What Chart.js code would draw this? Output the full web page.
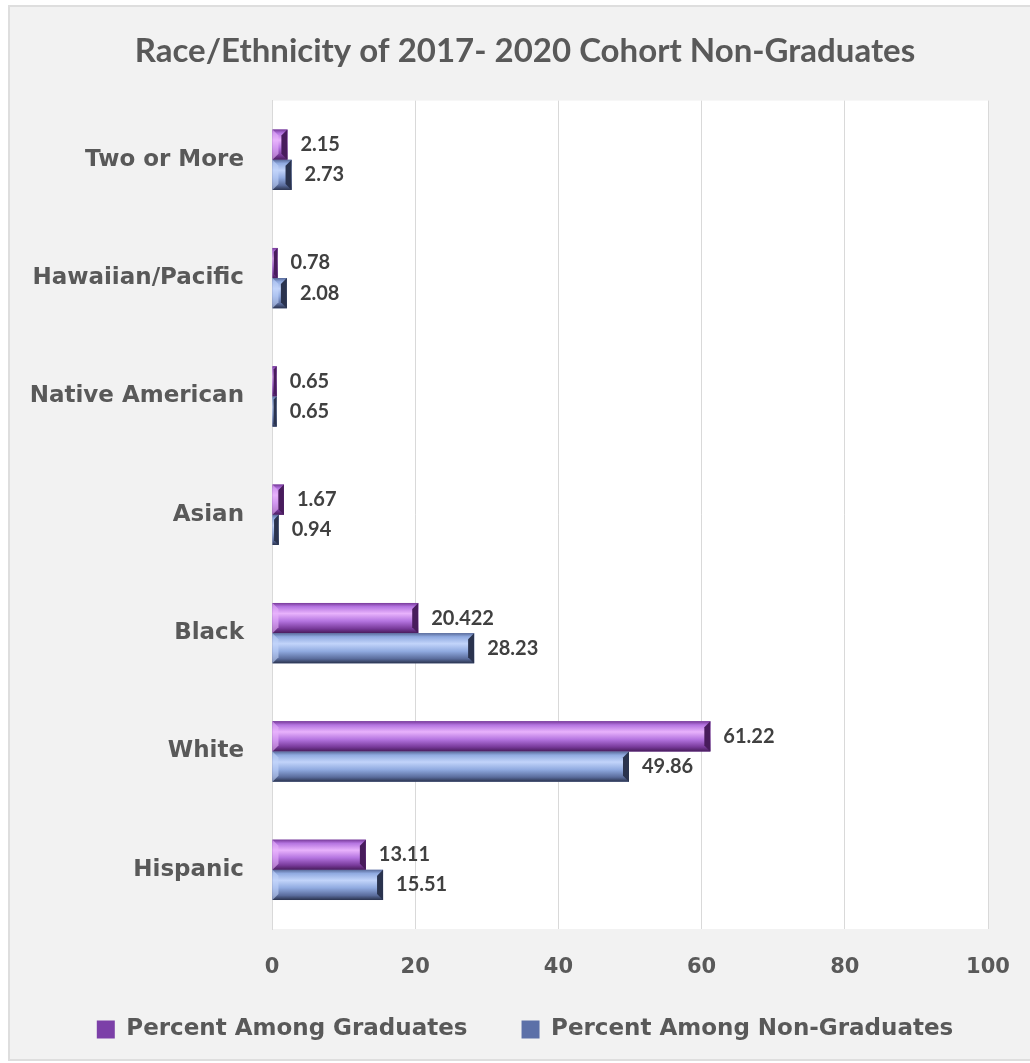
<!DOCTYPE html>
<html>
<head>
<meta charset="utf-8">
<script src="https://cdn.jsdelivr.net/npm/chart.js@4/dist/chart.umd.min.js"></script>
<style>
body { margin:0; background:#fff; }
#frame { position:absolute; left:8px; top:5px; width:1020px; height:1052px; background:#f2f2f2; border-left:2px solid #dedede; border-top:2px solid #dedede; border-bottom:2px solid #dedede; }
#box { position:absolute; left:0; top:0; width:1030px; height:1063px; }
</style>
</head>
<body>
<div id="frame"></div>
<div id="box"><canvas id="bar-chart"></canvas></div>
<script>
var categorias = ["Two or More", "Hawaiian/Pacific", "Native American", "Asian", "Black", "White", "Hispanic"];
var graduados = [2.15, 0.78, 0.65, 1.67, 20.422, 61.22, 13.11];
var noGraduados = [2.73, 2.08, 0.65, 0.94, 28.23, 49.86, 15.51];
var ticksX = [0, 20, 40, 60, 80, 100];

// fondo blanco del area de trazado
var fondoPlot = {
  id: 'fondoPlot',
  beforeDraw: function(chart){
    var a = chart.chartArea, ctx = chart.ctx;
    ctx.save();
    ctx.fillStyle = '#ffffff';
    ctx.fillRect(a.left, a.top, a.right - a.left, a.bottom - a.top);
    ctx.restore();
  }
};

// efecto biselado + etiquetas de valor
var bisel = {
  id: 'bisel',
  afterDatasetsDraw: function(chart){
    var ctx = chart.ctx;
    var tonos = [
      {hi:'#e8b2fc', mid:'#b474e0', lo:'#783a9a', end:'#481c5c'},
      {hi:'#c2d4fa', mid:'#90aae0', lo:'#5a6c9c', end:'#2a334e'}
    ];
    chart.data.datasets.forEach(function(ds, i){
      var meta = chart.getDatasetMeta(i);
      var t = tonos[i];
      meta.data.forEach(function(bar, j){
        var p = bar.getProps(['x','y','base','height'], true);
        var x0 = p.base, x1 = p.x, y0 = p.y - p.height/2, y1 = p.y + p.height/2;
        var h = y1 - y0, w = x1 - x0;
        var e = Math.min(6, w * 0.75);
        ctx.save();
        var g = ctx.createLinearGradient(0, y0, 0, y1);
        g.addColorStop(0, t.lo);
        g.addColorStop(0.12, t.mid);
        g.addColorStop(0.35, t.hi);
        g.addColorStop(0.6, t.mid);
        g.addColorStop(0.85, t.lo);
        g.addColorStop(1, t.end);
        ctx.fillStyle = g;
        ctx.fillRect(x0, y0, w, h);
        // extremo derecho
        ctx.fillStyle = t.end;
        ctx.beginPath();
        ctx.moveTo(x1 - e, y0 + Math.min(e, 6));
        ctx.lineTo(x1, y0);
        ctx.lineTo(x1, y1);
        ctx.lineTo(x1 - e, y1 - Math.min(e, 6));
        ctx.closePath();
        ctx.fill();
        // extremo izquierdo
        if (w > 10) {
          ctx.fillStyle = t.hi;
          ctx.globalAlpha = 0.6;
          ctx.beginPath();
          ctx.moveTo(x0, y0);
          ctx.lineTo(x0 + e, y0 + e);
          ctx.lineTo(x0 + e, y1 - e);
          ctx.lineTo(x0, y1);
          ctx.closePath();
          ctx.fill();
        }
        ctx.restore();

        ctx.save();
        ctx.fillStyle = '#404040';
        ctx.font = 'bold 20px Lato';
        ctx.textAlign = 'left';
        ctx.textBaseline = 'middle';
        ctx.fillText(String(ds.data[j]), x1 + 13, p.y);
        ctx.restore();
      });
    });
  }
};

new Chart(document.getElementById('bar-chart'), {
  type: 'bar',
  data: {
    labels: categorias,
    datasets: [
      { label: 'Percent Among Graduates', data: graduados, backgroundColor: '#7c40a8', borderWidth: 0 },
      { label: 'Percent Among Non-Graduates', data: noGraduados, backgroundColor: '#5c70a8', borderWidth: 0 }
    ]
  },
  options: {
    indexAxis: 'y',
    responsive: true,
    maintainAspectRatio: false,
    animation: false,
    events: [],
    categoryPercentage: 0.51,
    barPercentage: 1.0,
    layout: { padding: { left: 20, right: 0, top: 0, bottom: 12 } },
    plugins: {
      title: {
        display: true,
        text: 'Race/Ethnicity of 2017- 2020 Cohort Non-Graduates',
        color: '#595959',
        font: { family: 'Lato', size: 33, weight: 'bold' },
        padding: { top: 32, bottom: 29 }
      },
      legend: {
        position: 'bottom',
        labels: {
          color: '#595959',
          font: { family: 'DejaVu Sans', size: 23, weight: 'bold' },
          boxWidth: 18, boxHeight: 18,
          padding: 22,
          generateLabels: function(chart){
            var items = Chart.defaults.plugins.legend.labels.generateLabels(chart);
            // separacion extra entre las dos entradas
            items[0].text = items[0].text + '    ';
            return items;
          }
        }
      },
      tooltip: { enabled: false }
    },
    scales: {
      x: {
        min: 0, max: 100,
        afterBuildTicks: function(s){ s.ticks = ticksX.map(function(v){ return {value: v}; }); },
        afterFit: function(s){ s.height = 67; s.paddingRight = 20; },
        grid: { color: '#d9d9d9', drawTicks: false },
        border: { display: false },
        ticks: { color: '#595959', padding: 26, font: { family: 'DejaVu Sans', size: 21, weight: 'bold' } }
      },
      y: {
        afterFit: function(s){ s.width = 252; },
        grid: { display: false, drawTicks: false },
        border: { display: true, color: '#d9d9d9' },
        ticks: { color: '#595959', padding: 28, font: { family: 'DejaVu Sans', size: 23, weight: 'bold' } }
      },
      // eje vacio a la derecha, solo reserva margen
      y2: {
        position: 'right',
        afterFit: function(s){ s.width = 42; },
        grid: { display: false, drawTicks: false },
        border: { display: false },
        ticks: { display: false }
      }
    }
  },
  plugins: [fondoPlot, bisel]
});
</script>
</body>
</html>
